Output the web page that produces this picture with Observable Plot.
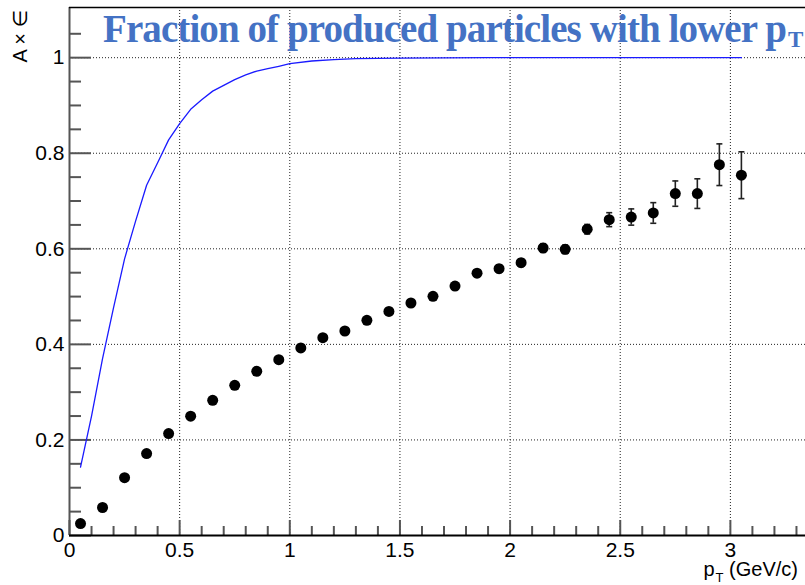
<!DOCTYPE html>
<html>
<head>
<meta charset="utf-8">
<script src="https://cdn.jsdelivr.net/npm/d3@7"></script>
<script src="https://cdn.jsdelivr.net/npm/@observablehq/plot@0.6"></script>
<style>
  html, body { margin: 0; padding: 0; background: #fff; overflow: hidden; }
</style>
</head>
<body>
<div id="chart"></div>
<script>
// Acceptance x efficiency per pT bin (bin centres, values, statistical errors)
const ptX = [0.05, 0.15, 0.25, 0.35, 0.45, 0.55, 0.65, 0.75, 0.85, 0.95,
             1.05, 1.15, 1.25, 1.35, 1.45, 1.55, 1.65, 1.75, 1.85, 1.95,
             2.05, 2.15, 2.25, 2.35, 2.45, 2.55, 2.65, 2.75, 2.85, 2.95, 3.05];
const ptY = [0.025, 0.0586, 0.121, 0.1715, 0.2134, 0.2496, 0.283, 0.3144, 0.3437, 0.368,
             0.3925, 0.414, 0.428, 0.4504, 0.469, 0.4866, 0.5006, 0.522, 0.549, 0.5585,
             0.571, 0.6017, 0.599, 0.641, 0.661, 0.6665, 0.675, 0.7155, 0.7155, 0.776, 0.754];
const ptErr = [0.001, 0.002, 0.002, 0.003, 0.003, 0.003, 0.004, 0.004, 0.004, 0.005,
               0.005, 0.005, 0.005, 0.006, 0.006, 0.006, 0.007, 0.007, 0.007, 0.008,
               0.008, 0.009, 0.009, 0.010, 0.0146, 0.017, 0.0216, 0.0265, 0.031, 0.0436, 0.049];

// Cumulative fraction of produced particles below a given pT
const fracX = [0.05, 0.10, 0.15, 0.20, 0.25, 0.30, 0.35, 0.40, 0.45, 0.50,
               0.55, 0.60, 0.65, 0.70, 0.75, 0.80, 0.85, 0.90, 0.95, 1.00,
               1.10, 1.20, 1.30, 1.50, 1.90, 3.05];
const fracY = [0.143, 0.25, 0.37, 0.477, 0.579, 0.658, 0.733, 0.780, 0.828, 0.862,
               0.892, 0.912, 0.930, 0.942, 0.954, 0.964, 0.972, 0.977, 0.982, 0.9875,
               0.993, 0.996, 0.998, 0.999, 1.0, 1.0];

// Axis tick labels
const xTickLabels = [0, 0.5, 1, 1.5, 2, 2.5, 3];
const yTickLabels = [0, 0.2, 0.4, 0.6, 0.8, 1];

const points = ptX.map((x, i) => ({x, y: ptY[i], err: ptErr[i]}));
const curve = fracX.map((x, i) => ({x, y: fracY[i]}));

const W = 805, H = 585;
const mL = 69, mR = 0, mT = 7, mB = 50;
const innerW = W - mL - mR, innerH = H - mT - mB;
const xMax = 3.341, yMax = 1.105;

const xMinor = d3.range(0, 34).filter(i => i % 5 !== 0).map(i => i / 10);
const yMinor = d3.range(0, 22).filter(i => i % 4 !== 0).map(i => i / 20);
const xGrid = xTickLabels.filter(d => d > 0);
const yGrid = yTickLabels.filter(d => d > 0);

// horizontal cap used at the ends of the error bars
const capSymbol = {
  draw(context) {
    context.moveTo(-3, 0);
    context.lineTo(3, 0);
  }
};

const dotted = {stroke: "#222", strokeOpacity: 1, strokeWidth: 1, strokeDasharray: "1,2"};

const chart = Plot.plot({
  width: W,
  height: H,
  marginLeft: mL,
  marginRight: mR,
  marginTop: mT,
  marginBottom: mB,
  x: {domain: [0, xMax]},
  y: {domain: [0, yMax]},
  style: {
    fontFamily: "'Liberation Sans', Arial, Helvetica, sans-serif",
    fontSize: "21px",
    color: "#000",
    background: "#fff"
  },
  marks: [
    Plot.gridX(xGrid, dotted),
    Plot.gridY(yGrid, dotted),

    // inward-pointing tick marks
    Plot.tickX(xTickLabels, {x: d => d, insetTop: innerH - 15, stroke: "#555", strokeWidth: 2}),
    Plot.tickX(xMinor, {x: d => d, insetTop: innerH - 9, stroke: "#555", strokeWidth: 2}),
    Plot.tickY(yTickLabels, {y: d => d, insetRight: innerW - 22, stroke: "#555", strokeWidth: 2}),
    Plot.tickY(yMinor, {y: d => d, insetRight: innerW - 12, stroke: "#555", strokeWidth: 2}),

    // frame: left axis, bottom axis and top edge
    Plot.ruleX([0], {stroke: "#555", strokeWidth: 2}),
    Plot.ruleY([0], {stroke: "#000", strokeWidth: 2}),
    Plot.ruleY([yMax], {stroke: "#000", strokeWidth: 1.5}),

    Plot.axisX(xTickLabels, {tickSize: 0, tickPadding: 7, fontSize: 21, label: null, tickFormat: d => String(d)}),
    Plot.axisY(yTickLabels, {tickSize: 0, tickPadding: 5, fontSize: 21, label: null, tickFormat: d => String(d)}),

    // cumulative fraction curve
    Plot.line(curve, {x: "x", y: "y", stroke: "#1a1aff", strokeWidth: 1.3}),

    // acceptance x efficiency with error bars
    Plot.ruleX(points, {x: "x", y1: d => d.y - d.err, y2: d => d.y + d.err, stroke: "#222", strokeWidth: 1.6}),
    Plot.dot(points, {x: "x", y: d => d.y + d.err, symbol: capSymbol, r: 3, fill: "none", stroke: "#222", strokeWidth: 1.6}),
    Plot.dot(points, {x: "x", y: d => d.y - d.err, symbol: capSymbol, r: 3, fill: "none", stroke: "#222", strokeWidth: 1.6}),
    Plot.dot(points, {x: "x", y: "y", r: 5.5, fill: "#000", stroke: "none"})
  ]
});

document.getElementById("chart").appendChild(chart);

const svg = d3.select(chart);

// y-axis title, right-aligned at the top of the axis
svg.append("text")
  .attr("transform", "translate(27,10) rotate(-90)")
  .attr("text-anchor", "end")
  .attr("font-family", "'Liberation Sans', 'DejaVu Sans', sans-serif")
  .attr("font-size", 20)
  .attr("fill", "#000")
  .text("A × ∈");

// x-axis title, right-aligned at the end of the axis
const xt = svg.append("text")
  .attr("x", 798)
  .attr("y", 576)
  .attr("text-anchor", "end")
  .attr("font-family", "'Liberation Sans', sans-serif")
  .attr("font-size", 20)
  .attr("fill", "#000");
xt.append("tspan").text("p");
xt.append("tspan").attr("font-size", 13).attr("dy", 6).attr("dx", 1).text("T");
xt.append("tspan").attr("dy", -6).text(" (GeV/c)");

// headline drawn over the top of the frame
const titleFont = {
  family: "'Liberation Serif', 'Times New Roman', serif",
  color: "#4472C4"
};
svg.append("text")
  .attr("x", 103)
  .attr("y", 41.5)
  .attr("text-anchor", "start")
  .attr("textLength", 684)
  .attr("lengthAdjust", "spacing")
  .attr("font-family", titleFont.family)
  .attr("font-weight", "bold")
  .attr("font-size", 39)
  .attr("fill", titleFont.color)
  .text("Fraction of produced particles with lower p");
svg.append("text")
  .attr("x", 788)
  .attr("y", 46.5)
  .attr("text-anchor", "start")
  .attr("font-family", titleFont.family)
  .attr("font-weight", "bold")
  .attr("font-size", 23)
  .attr("fill", titleFont.color)
  .text("T");
</script>
</body>
</html>
